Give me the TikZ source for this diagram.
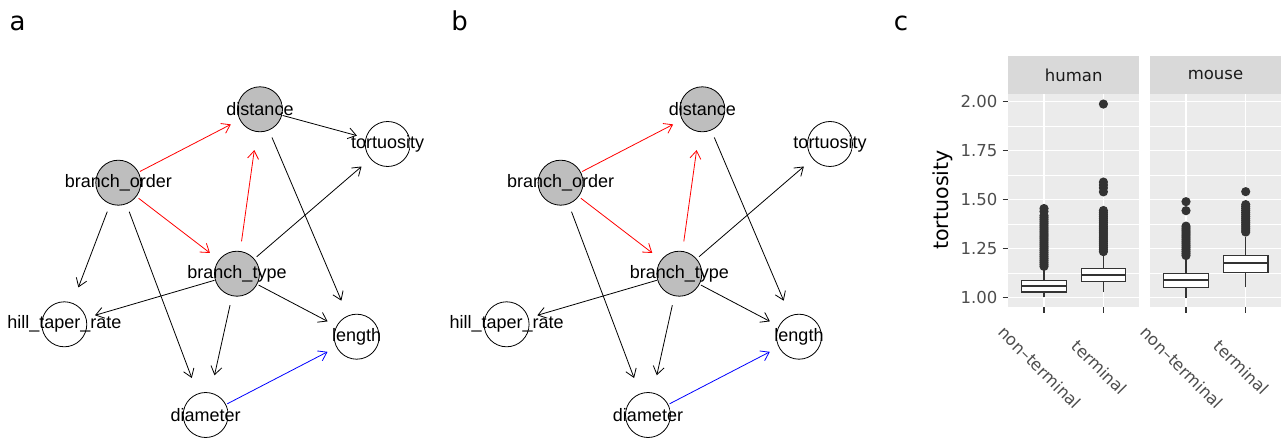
\documentclass[tikz,border=0pt]{standalone}
\usepackage{fontspec}
\setmainfont{DejaVu Sans}
\newfontfamily\graphfont{Liberation Sans}
\usetikzlibrary{positioning,shapes.geometric,arrows.meta}

\definecolor{nodegray}{HTML}{BEBEBE}
\definecolor{panelgray}{HTML}{EBEBEB}
\definecolor{stripgray}{HTML}{D9D9D9}
\definecolor{boxdark}{HTML}{333333}
\definecolor{axisgray}{HTML}{4D4D4D}
\definecolor{stripfont}{HTML}{1A1A1A}

\tikzset{
  gnode/.style={ellipse, minimum width=46pt, minimum height=66pt, inner sep=0pt, outer sep=0pt,
    path picture={\filldraw[fill=#1, draw=black, line width=0.8pt]
      (path picture bounding box.center) circle (22.5pt);}},
  gnode/.default=white,
  every label/.style={font=\graphfont\fontsize{18}{20}\selectfont, inner sep=0pt},
  dagedge/.style={-{Straight Barb[length=8pt,width=11pt]}, line width=0.8pt, shorten >=8.5pt},
  panellabel/.style={anchor=base, inner sep=0pt, font=\fontsize{26}{30}\selectfont},
  ticklabel/.style={inner sep=0pt, text=axisgray, font=\fontsize{16.5}{18}\selectfont},
  striptext/.style={inner sep=0pt, text=stripfont, font=\fontsize{16.5}{18}\selectfont},
}

% box with whiskers: x, low, q1, median, q3, high
\newcommand{\tortbox}[6]{%
  \draw[boxdark, line width=1.1pt] (#1,#2) -- (#1,#3) (#1,#5) -- (#1,#6);
  \filldraw[fill=white, draw=boxdark, line width=1.1pt] (#1-22.3,#3) rectangle (#1+22.3,#5);
  \draw[boxdark, line width=2.4pt] (#1-22.3,#4) -- (#1+22.3,#4);
}
\newcommand{\outlier}[2]{\fill[boxdark] (#1,#2) circle (4.6pt);}

\begin{document}
\begin{tikzpicture}[x=1pt, y=-1pt]
\useasboundingbox (0,0) rectangle (1288,438);

% panel letters
\node[panellabel] (lab-a) at (17.5,31) {a};
\node[panellabel] (lab-b) at (459.7,31) {b};
\node[panellabel] (lab-c) at (901,31) {c};

% networks a and b
\foreach \p/\dx in {a/0, b/442.3} {
  \begin{scope}[xshift=\dx]
    \node[gnode=nodegray, label=center:branch\_order] (\p-bo) at (118.3,182.7) {};
    \node[gnode=nodegray, label=center:distance] (\p-dist) at (260,109.3) {};
    \node[gnode, label=center:tortuosity] (\p-tort) at (387.7,144) {};
    \node[gnode=nodegray, label=center:branch\_type] (\p-bt) at (237,273.7) {};
    \node[gnode, label=center:hill\_taper\_rate] (\p-htr) at (64.3,324.3) {};
    \node[gnode, label=center:length] (\p-len) at (356.7,336.7) {};
    \node[gnode, label=center:diameter] (\p-diam) at (205.7,415) {};
  \end{scope}
}

\foreach \p in {a,b} {
  \draw[dagedge, red] (\p-bo) -- (\p-dist);
  \draw[dagedge, red] (\p-bo) -- (\p-bt);
  \draw[dagedge, red] (\p-bt) -- (\p-dist);
  \draw[dagedge] (\p-dist) -- (\p-len);
  \draw[dagedge] (\p-bt) -- (\p-tort);
  \draw[dagedge] (\p-bo) -- (\p-diam);
  \draw[dagedge] (\p-bt) -- (\p-htr);
  \draw[dagedge] (\p-bt) -- (\p-len);
  \draw[dagedge] (\p-bt) -- (\p-diam);
  \draw[dagedge, blue] (\p-diam) -- (\p-len);
}
% only in a
\draw[dagedge] (a-dist) -- (a-tort);
\draw[dagedge] (a-bo) -- (a-htr);

% boxplot c: strips
\fill[stripgray] (1008.3,56) rectangle (1139,94);
\fill[stripgray] (1150,56) rectangle (1281,94);
\node[striptext] (strip-h) at (1073.7,75) {human};
\node[striptext] (strip-m) at (1215.5,75) {mouse};

\node[rotate=90, inner sep=0pt, font=\fontsize{20.6}{22}\selectfont] (ytitle) at (942.5,200) {tortuosity};

\begin{scope}[y=196pt, yshift=-493.7pt]
  \foreach \xl/\xr in {1008.3/1139, 1150/1281} {
    \fill[panelgray] (\xl,0.951) rectangle (\xr,2.039);
    \foreach \v in {1.125,1.375,1.625,1.875}
      \draw[white, line width=0.55pt] (\xl,\v) -- (\xr,\v);
    \foreach \v in {1,1.25,...,2}
      \draw[white, line width=1.1pt] (\xl,\v) -- (\xr,\v);
  }
  \foreach \cx in {1044,1103.4,1186,1245.7}
    \draw[white, line width=1.1pt] (\cx,0.951) -- (\cx,2.039);

  % y axis
  \foreach \v/\t in {1/1.00, 1.25/1.25, 1.5/1.50, 1.75/1.75, 2/2.00} {
    \draw[boxdark, line width=1.1pt] (1002.7,\v) -- (1008.3,\v);
    \node[ticklabel, anchor=east] at (997.5,\v) {\t};
  }

  % human
  \tortbox{1044}{1.002}{1.029}{1.060}{1.090}{1.15}
  \foreach \v in {1.16,1.17,...,1.42} {\outlier{1044}{\v}}
  \outlier{1044}{1.44} \outlier{1044}{1.455}
  \tortbox{1103.4}{1.028}{1.084}{1.116}{1.148}{1.227}
  \foreach \v in {1.235,1.245,...,1.445} {\outlier{1103.4}{\v}}
  \foreach \v in {1.54,1.56,1.575,1.59} {\outlier{1103.4}{\v}}
  \outlier{1103.4}{1.988}
  % mouse
  \tortbox{1186}{1.0}{1.053}{1.090}{1.124}{1.197}
  \foreach \v in {1.215,1.225,...,1.375} {\outlier{1186}{\v}}
  \outlier{1186}{1.444} \outlier{1186}{1.49}
  \tortbox{1245.7}{1.053}{1.128}{1.176}{1.214}{1.311}
  \foreach \v in {1.335,1.345,...,1.476} {\outlier{1245.7}{\v}}
  \outlier{1245.7}{1.541}
\end{scope}

% x axis
\foreach \cx/\t in {1044/non–terminal, 1103.4/terminal, 1186/non–terminal, 1245.7/terminal} {
  \draw[boxdark, line width=1.1pt] (\cx,307.3) -- (\cx,312.8);
  \node[ticklabel, rotate=-45] at (\cx-4,367.5) {\t};
}
\end{tikzpicture}
\end{document}
